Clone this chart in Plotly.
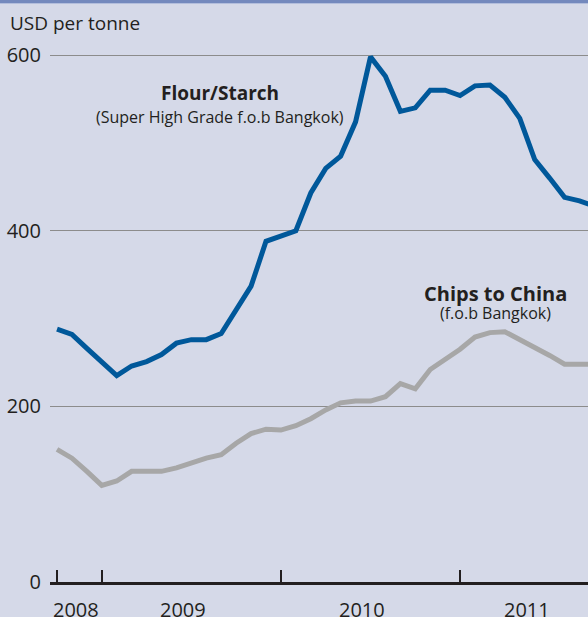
import plotly.graph_objects as go

# monthly prices, Oct 2008 onwards (USD per tonne)
flour_starch = [288, 282, 266, 251, 235, 246, 251, 259, 272, 276, 276, 283,
                310, 337, 388, 394, 400, 443, 471, 485, 524, 598, 576, 536,
                540, 560, 560, 554, 565, 566, 552, 528, 481, 460, 438, 434, 428]
chips_china = [151, 141, 126, 110, 115, 126, 126, 126, 130, 136, 141, 145,
               158, 169, 174, 173, 178, 186, 196, 204, 206, 206, 211, 226,
               220, 242, 253, 265, 279, 284, 285, 276, 268, 258, 248, 248, 248]
months = list(range(len(flour_starch)))
year_ticks = [0, 3, 15, 27]
years = ["2008", "2009", "2010", "2011"]
y_ticks = [0, 200, 400, 600]

BG = "#d5d9e8"
TXT = "#231f20"
FONT = "Open Sans"

fig = go.Figure()
fig.add_trace(go.Scatter(x=months, y=chips_china, mode="lines",
                         line=dict(color="#a7a7a7", width=5)))
fig.add_trace(go.Scatter(x=months, y=flour_starch, mode="lines",
                         line=dict(color="#00589a", width=5)))

fig.update_layout(
    width=588, height=617,
    margin=dict(l=50, r=0, t=20, b=35),
    paper_bgcolor=BG, plot_bgcolor=BG,
    showlegend=False,
    font=dict(family=FONT, size=19, color=TXT),
    xaxis=dict(
        range=[-0.47, 35.57],
        showgrid=False, zeroline=False,
        showline=True, linecolor=TXT, linewidth=3,
        ticks="inside", ticklen=12, tickwidth=2, tickcolor=TXT,
        tickvals=year_ticks, showticklabels=False,
    ),
    yaxis=dict(
        range=[0, 640],
        tickvals=y_ticks, showgrid=True, gridcolor="#8c8c8c", gridwidth=1,
        zeroline=False, showline=False, ticks="",
        ticklabelstandoff=8,
        tickfont=dict(family=FONT, size=20, color=TXT),
    ),
)

# year labels between ticks (pixel x -> paper fraction)
for yr, px in zip(years, [76, 183, 362, 527]):
    fig.add_annotation(x=(px - 50) / 538, y=-27 / 562, xref="paper", yref="paper",
                       text=yr, showarrow=False, xanchor="center", yanchor="middle",
                       font=dict(family=FONT, size=20, color=TXT))

fig.add_annotation(x=-42 / 538, y=(562 + 20 - 23) / 562, xref="paper", yref="paper",
                   text="USD per tonne", showarrow=False,
                   xanchor="left", yanchor="middle",
                   font=dict(family=FONT, size=19, color=TXT))

fig.add_annotation(x=10.92, y=557, text="<b>Flour/Starch</b>", showarrow=False,
                   font=dict(family=FONT, size=19, color=TXT))
fig.add_annotation(x=10.92, y=530, text="(Super High Grade f.o.b Bangkok)",
                   showarrow=False, font=dict(family=FONT, size=16, color=TXT))
fig.add_annotation(x=29.4, y=328, text="<b>Chips to China</b>", showarrow=False,
                   font=dict(family=FONT, size=20, color=TXT))
fig.add_annotation(x=29.4, y=306, text="(f.o.b Bangkok)",
                   showarrow=False, font=dict(family=FONT, size=16, color=TXT))

# thin header strip at top
fig.add_shape(type="rect", xref="paper", yref="paper",
              x0=-1, x1=2, y0=(582 - 3) / 562, y1=(582 + 5) / 562,
              fillcolor="#7489bd", line_width=0, layer="above")
fig.add_shape(type="rect", xref="paper", yref="paper",
              x0=-1, x1=2, y0=(582 - 4) / 562, y1=(582 - 3) / 562,
              fillcolor="#b3bedc", line_width=0, layer="above")

fig.write_html("out.html",
               config={"displayModeBar": False},
               post_script="document.body.style.margin='0';"
                           "document.body.style.overflow='hidden';")
